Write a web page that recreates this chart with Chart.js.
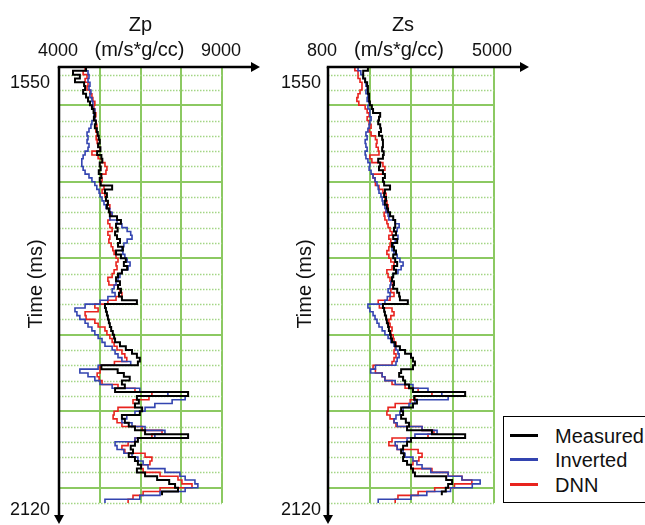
<!DOCTYPE html>
<html><head><meta charset="utf-8">
<script src="https://cdn.jsdelivr.net/npm/chart.js@4.4.0/dist/chart.umd.min.js"></script>
<style>
html,body{margin:0;padding:0;background:#fff;width:645px;height:525px;overflow:hidden;}
#wrap{position:relative;width:645px;height:525px;}
canvas{position:absolute;top:0;left:0;}
#legend{position:absolute;left:503px;top:416px;width:150px;height:87px;border:1.5px solid #000;background:#fff;box-sizing:border-box;font-family:"Liberation Sans",Arial,sans-serif;font-size:20px;color:#111;}
.item{position:absolute;left:6px;height:24px;line-height:24px;width:140px;}
.ln{position:absolute;left:0;top:10px;width:28px;height:3px;}
.tx{position:absolute;left:45px;top:0;white-space:nowrap;}
</style></head>
<body><div id="wrap">
<div style="position:absolute;left:0;top:0;width:280px;height:525px"><canvas id="c1"></canvas></div>
<div style="position:absolute;left:270px;top:0;width:375px;height:525px"><canvas id="c2"></canvas></div>
<div id="legend">
 <div class="item" style="top:7px"><span class="ln" style="background:#000"></span><span class="tx">Measured</span></div>
 <div class="item" style="top:31px"><span class="ln" style="background:#3344b0"></span><span class="tx">Inverted</span></div>
 <div class="item" style="top:56px"><span class="ln" style="background:#e8231e"></span><span class="tx">DNN</span></div>
</div>
</div>
<script>
// ---- data ----
const TIME = [
1550,1555,1560,1565,1570,1575,1580,1585,1590,1595,
1600,1605,1610,1615,1620,1625,1630,1635,1640,1645,
1650,1655,1660,1665,1670,1675,1680,1685,1690,1695,
1700,1705,1710,1715,1720,1725,1730,1735,1740,1745,
1750,1755,1760,1765,1770,1775,1780,1785,1790,1795,
1800,1805,1810,1815,1820,1825,1830,1835,1840,1845,
1850,1855,1860,1865,1870,1875,1880,1885,1890,1895,
1900,1905,1910,1915,1920,1925,1930,1935,1940,1945,
1950,1955,1960,1965,1970,1975,1980,1985,1990,1995,
2000,2005,2010,2015,2020,2025,2030,2035,2040,2045,
2050,2055,2060,2065,2070,2075,2080,2085,2090,2095,
2100,2105,2110,2115,2120];

const SERIES = ['Measured','Inverted','DNN'];

const ZP_MEASURED = [
4830,4430,4640,4490,4770,4800,4740,4830,4890,4950,
5010,5060,5100,5070,5130,5100,5160,5190,5220,5250,
5200,5270,5170,5300,5330,5250,5280,5220,5300,5250,
5280,5630,5410,5470,5440,5500,5470,5530,5560,5780,
5900,5750,5800,5720,5780,5870,5810,5960,5750,5900,
6050,5990,6090,5930,5810,5750,5870,5810,5900,5840,
5930,6390,5410,5440,5470,5500,5530,5560,5600,5650,
5690,5720,5870,6050,6240,6390,6480,6420,5300,5800,
5990,6170,5930,6020,5720,7960,6390,6450,6330,6550,
6480,5930,6020,6140,6330,6640,7960,6420,6330,6200,
6270,6140,6330,6420,6520,6390,6640,7010,7380,7560,
7650,7160,7160];

const ZP_INVERTED = [
4830,4890,4920,4890,4950,4920,4980,4950,5010,5040,
5040,5100,5070,5100,5010,4980,4920,4860,4890,4860,
4920,4890,4800,4740,4700,4700,4740,4800,4920,5010,
5100,5160,5230,5260,5320,5380,5440,5560,5630,5560,
5780,5930,6090,6200,6240,6090,5990,5930,5960,6020,
6090,6180,6120,5930,5870,5810,5750,5690,5630,5720,
5500,5260,4800,4490,4550,4640,4800,4890,5010,5100,
5200,5320,5410,5630,5720,5810,5930,6200,5200,4640,
4890,5100,5260,5630,6480,7340,7870,7470,6940,6640,
6330,6080,5930,6240,6640,7250,6940,6330,5720,5780,
5990,6240,6420,6580,6730,7250,7710,7870,8170,8260,
7870,7100,6480,5410,5410];

const ZP_DNN = [
4800,4740,4860,4800,4890,4860,4950,5010,5040,5100,
5070,5100,5130,5100,5130,5160,5130,5170,5140,5170,
5200,5260,5010,5200,5320,5410,5470,5440,5290,5320,
5260,5380,5320,5410,5440,5500,5560,5530,5600,5560,
5500,5560,5630,5500,5560,5530,5600,5650,5690,5750,
5810,5750,5780,5690,5630,5500,5530,5810,5870,5930,
5750,5500,5100,5200,4800,4830,5100,5200,5410,5470,
5560,5630,5690,5780,5930,6020,6080,5700,5260,5260,
5170,5230,5320,5810,6330,6850,6760,6270,6330,5810,
5690,5660,5780,5930,6550,7160,6850,6330,6120,5930,
6020,6640,6850,6790,6520,6580,7100,7650,7770,8080,
7100,6580,6270,6120,6120];

const ZS_MEASURED = [
1810,1690,1690,1740,1790,1810,1810,1840,1840,1860,
1910,1940,2120,2090,2070,2120,2140,2090,2170,2190,
2190,2170,2210,2190,2070,2120,2090,2190,2240,2190,
2220,2370,2240,2220,2270,2240,2290,2320,2370,2450,
2500,2500,2470,2520,2450,2550,2420,2470,2520,2450,
2500,2550,2470,2520,2450,2420,2470,2450,2550,2600,
2620,2820,2190,2220,2240,2270,2290,2320,2340,2370,
2390,2420,2500,2620,2750,2900,2950,3000,2950,2650,
2600,2700,2750,2850,2950,4270,2980,3050,2950,2650,
2700,2650,2770,2850,2800,3430,4270,2900,2800,2700,
2650,2720,2700,2800,2900,2950,3000,3790,3940,3840,
3780,3680,3680];

const ZS_INVERTED = [
1560,1630,1690,1740,1760,1790,1760,1810,1790,1840,
1810,1860,1860,1890,1860,1840,1810,1760,1790,1740,
1760,1790,1740,1760,1810,1860,1840,1890,1940,1990,
2040,2070,2090,2140,2170,2190,2240,2270,2320,2340,
2500,2600,2550,2520,2570,2500,2450,2420,2470,2550,
2620,2700,2650,2570,2450,2420,2390,2370,2320,2370,
2300,2240,1810,1860,1940,1990,2040,2090,2170,2240,
2320,2390,2470,2520,2570,2600,2550,2520,2000,1880,
2170,2240,2500,2950,3330,3680,3840,3000,2850,2700,
2620,2520,2470,2550,3180,3560,3000,2800,2500,2550,
2700,2750,2950,3050,3180,3400,3840,4190,4650,4450,
3900,3300,2900,2070,2070];

const ZS_DNN = [
1480,1560,1560,1610,1660,1660,1610,1560,1530,1580,
1740,1790,1840,1790,1840,1890,1840,1890,2000,2040,
2020,2070,2090,1860,1910,2190,2240,2190,1940,1990,
2000,2090,2190,2270,2240,2290,2320,2270,2220,2240,
2290,2320,2370,2420,2340,2390,2370,2340,2290,2340,
2390,2470,2420,2290,2320,2370,2420,2450,2390,2470,
2370,2070,2100,2420,2470,2390,2340,2370,2420,2390,
2450,2470,2520,2500,2470,2520,2470,2420,1940,2000,
2170,2240,2420,2750,3080,3430,3000,2880,2500,2320,
2290,2370,2470,2520,3180,3480,3330,2420,2340,2550,
3080,3180,3100,2950,2900,3430,3840,4190,4440,4000,
3500,3080,2570,2500,2500];

// axis ticks / labels
const ZP_RANGE = [4000, 9000];
const ZS_RANGE = [800, 5000];
const TIME_RANGE = [1550, 2120];
const TIME_MAJOR = [1600,1700,1800,1900,2000,2100];
const TIME_MINOR = [1560,1580,1620,1640,1660,1680,1720,1740,1760,1780,1820,1840,1860,1880,1920,1940,1960,1980,2020,2040,2060,2080,2120];
const UNIT = '(m/s*g/cc)';
const Y_TITLE = 'Time (ms)';

const COLORS = ['#000000', '#3344b0', '#e8231e'];
const WIDTHS = [2, 1.6, 1.6];
const GRID_MAJOR = '#8cc962';
const GRID_MINOR = '#a3d585';
const FONT = '"Liberation Sans", Arial, sans-serif';

function pts(vals){ return vals.map((v,i)=>({x:v, y:TIME[i]})); }

const minorGrid = {
  id: 'minorGrid',
  beforeDatasetsDraw(chart){
    const ctx = chart.ctx, a = chart.chartArea, s = chart.scales.y2;
    ctx.save();
    ctx.strokeStyle = GRID_MINOR; ctx.lineWidth = 1.5; ctx.setLineDash([1.5, 1.5]);
    s.ticks.forEach(t => {
      const y = Math.round(s.getPixelForValue(t.value)) + 0.5;
      ctx.beginPath(); ctx.moveTo(a.left, y); ctx.lineTo(a.right, y); ctx.stroke();
    });
    ctx.restore();
  }
};

function decor(cfg){
  return {
    id: 'decor_' + cfg.key,
    afterDraw(chart){
      const ctx = chart.ctx, a = chart.chartArea, xs = chart.scales.x, ys = chart.scales.y;
      ctx.save();
      ctx.strokeStyle = '#000'; ctx.fillStyle = '#000'; ctx.lineWidth = 2.5;
      ctx.beginPath(); ctx.moveTo(a.left - 1.25, a.top); ctx.lineTo(cfg.arrowX - 7, a.top); ctx.stroke();
      ctx.beginPath(); ctx.moveTo(cfg.arrowX, a.top); ctx.lineTo(cfg.arrowX - 9, a.top - 5); ctx.lineTo(cfg.arrowX - 9, a.top + 5); ctx.closePath(); ctx.fill();
      ctx.beginPath(); ctx.moveTo(a.left, a.top); ctx.lineTo(a.left, cfg.arrowY - 7); ctx.stroke();
      ctx.beginPath(); ctx.moveTo(a.left, cfg.arrowY); ctx.lineTo(a.left - 5, cfg.arrowY - 9); ctx.lineTo(a.left + 5, cfg.arrowY - 9); ctx.closePath(); ctx.fill();
      ctx.fillStyle = '#111';
      const cx = (a.left + a.right) / 2;
      ctx.textAlign = 'center'; ctx.textBaseline = 'alphabetic';
      ctx.font = '20px ' + FONT;
      ctx.fillText(cfg.title, cx + cfg.titleDx, 31);
      ctx.fillText(UNIT, cx + cfg.unitDx, 56);
      ctx.font = '18px ' + FONT;
      ctx.fillText(String(cfg.range[0]), xs.getPixelForValue(cfg.range[0]) + cfg.minDx, 56);
      ctx.fillText(String(cfg.range[1]), xs.getPixelForValue(cfg.range[1]) + cfg.maxDx, 56);
      ctx.textAlign = 'right';
      ctx.fillText(String(TIME_RANGE[0]), a.left + cfg.yLabDx, ys.getPixelForValue(TIME_RANGE[0]) + 21);
      ctx.fillText(String(TIME_RANGE[1]), a.left + cfg.yLabDx, ys.getPixelForValue(TIME_RANGE[1]) + 12);
      ctx.save();
      ctx.translate(a.left - 23, 284);
      ctx.rotate(-Math.PI / 2);
      ctx.textAlign = 'center'; ctx.textBaseline = 'middle';
      ctx.font = '20px ' + FONT;
      ctx.fillText(Y_TITLE, 0, 0);
      ctx.restore();
      ctx.restore();
    }
  };
}

function makeChart(id, w, pad, range, series, cfg){
  const cv = document.getElementById(id);
  cv.width = w; cv.height = 525; cv.style.width = w + 'px'; cv.style.height = '525px';
  return new Chart(cv, {
    type: 'scatter',
    data: {
      datasets: series.map((vals, i) => ({
        label: SERIES[i],
        data: pts(vals),
        showLine: true,
        stepped: 'after',
        borderColor: COLORS[i],
        backgroundColor: COLORS[i],
        borderWidth: WIDTHS[i],
        pointRadius: 0,
        pointHoverRadius: 0,
        fill: false,
        order: i
      }))
    },
    options: {
      responsive: false,
      animation: false,
      events: [],
      layout: { padding: pad },
      plugins: { legend: { display: false }, tooltip: { enabled: false } },
      scales: {
        x: {
          type: 'linear', position: 'top', min: range[0], max: range[1],
          ticks: { display: false, stepSize: (range[1] - range[0]) / 4 },
          grid: { color: GRID_MAJOR, lineWidth: 2, drawTicks: false },
          border: { display: false }
        },
        y2: {
          type: 'linear', position: 'left', reverse: true, min: TIME_RANGE[0], max: TIME_RANGE[1],
          afterBuildTicks: s => { s.ticks = TIME_MINOR.map(v => ({ value: v })); },
          ticks: { display: false },
          grid: { display: false, drawTicks: false },
          border: { display: false }
        },
        y: {
          type: 'linear', position: 'left', reverse: true, min: TIME_RANGE[0], max: TIME_RANGE[1],
          afterBuildTicks: s => { s.ticks = TIME_MAJOR.map(v => ({ value: v })); },
          ticks: { display: false },
          grid: { color: GRID_MAJOR, lineWidth: 2, drawTicks: false },
          border: { display: false }
        }
      }
    },
    plugins: [minorGrid, decor(cfg)]
  });
}

makeChart('c1', 280, { left: 59, top: 67, right: 58, bottom: 22 }, ZP_RANGE,
  [ZP_MEASURED, ZP_INVERTED, ZP_DNN],
  { key: 'zp', title: 'Zp', titleDx: 0, unitDx: -1, minDx: -1, maxDx: -1, yLabDx: -9, arrowX: 260, arrowY: 524, range: ZP_RANGE });

makeChart('c2', 375, { left: 58, top: 67, right: 151, bottom: 22 }, ZS_RANGE,
  [ZS_MEASURED, ZS_INVERTED, ZS_DNN],
  { key: 'zs', title: 'Zs', titleDx: -8, unitDx: -12, minDx: -6, maxDx: -2, yLabDx: -7, arrowX: 259, arrowY: 524, range: ZS_RANGE });
</script>
</body></html>
